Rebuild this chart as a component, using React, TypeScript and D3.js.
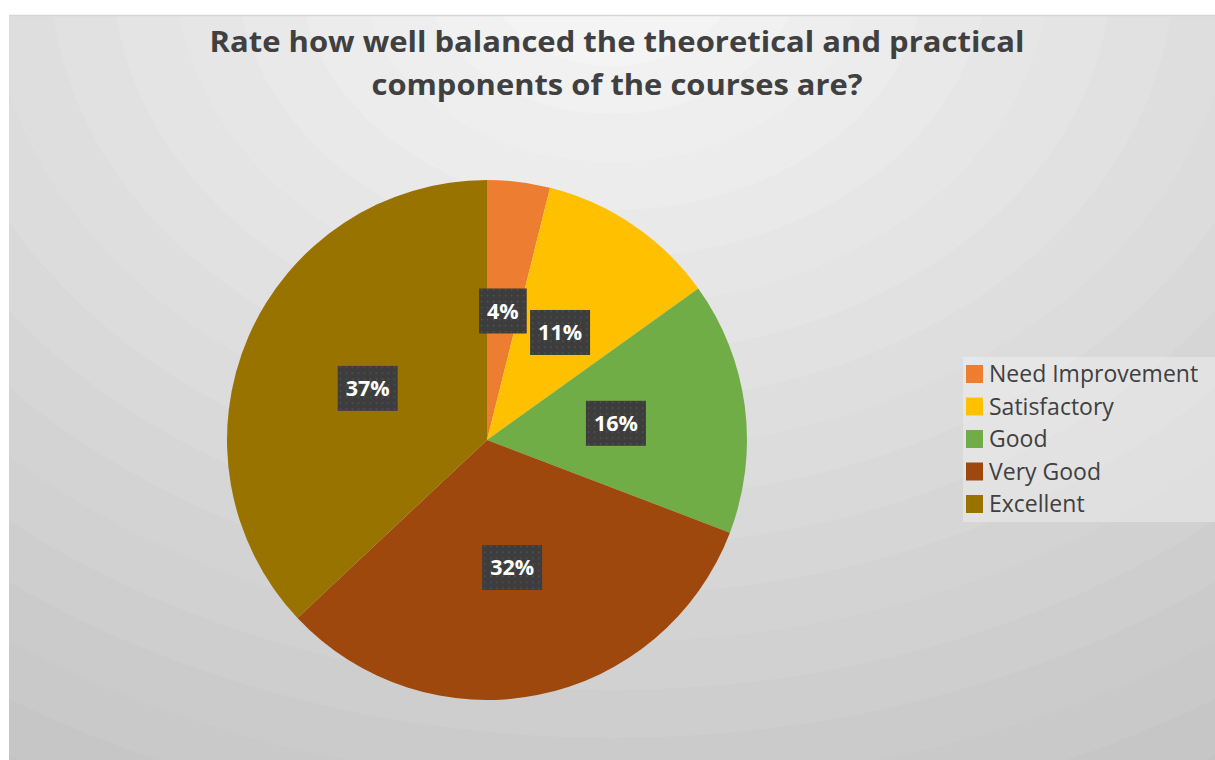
import React, { useEffect, useRef } from "react";
import * as d3 from "d3";

const categories = ["Need Improvement", "Satisfactory", "Good", "Very Good", "Excellent"];
const values = [3.9, 11.2, 15.7, 32.2, 37.0];
const colors = ["#ED7D31", "#FFC000", "#70AD47", "#9E480E", "#997300"];
const titleLines = [
  "Rate how well balanced the theoretical and practical",
  "components of the courses are?",
];

const W = 1215;
const H = 760;

export default function App() {
  const ref = useRef<SVGSVGElement | null>(null);

  useEffect(() => {
    document.body.style.margin = "0";
    const svg = d3.select(ref.current);
    svg.selectAll("*").remove();

    const defs = svg.append("defs");
    const pat = defs
      .append("pattern")
      .attr("id", "dots")
      .attr("width", 6)
      .attr("height", 6)
      .attr("patternUnits", "userSpaceOnUse");
    pat.append("rect").attr("width", 6).attr("height", 6).attr("fill", "#3d3d3d");
    pat.append("rect").attr("x", 2).attr("y", 2).attr("width", 1.4).attr("height", 1.4).attr("fill", "#565656");

    const clip = defs.append("clipPath").attr("id", "area");
    clip.append("rect").attr("x", 9).attr("y", 15).attr("width", W - 9).attr("height", H - 15);

    svg.append("rect").attr("width", W).attr("height", H).attr("fill", "#ffffff");

    // background banded radial gradient
    const bg = svg.append("g").attr("clip-path", "url(#area)");
    bg.append("rect").attr("x", 9).attr("y", 15).attr("width", W - 9).attr("height", H - 15).attr("fill", "#c2c2c2");
    const N = 22;
    const step = 48;
    const cx = 612;
    const cy = -30;
    const shade = d3.scaleLinear<number>().domain([0, N * step]).range([249, 190]);
    for (let i = N; i >= 1; i--) {
      const r = i * step;
      const c = Math.round(shade(r));
      bg.append("ellipse")
        .attr("cx", cx)
        .attr("cy", cy)
        .attr("rx", r * 1.3)
        .attr("ry", r)
        .attr("fill", `rgb(${c},${c},${c})`);
    }
    svg.append("line").attr("x1", 9).attr("x2", W).attr("y1", 15.5).attr("y2", 15.5).attr("stroke", "#d6d6d6").attr("stroke-width", 1.5);

    // title
    const title = svg.append("g").attr("fill", "#404040")
      .style("font-family", "'Open Sans', sans-serif")
      .style("font-weight", "bold")
      .style("font-size", "29px");
    const tl = [
      { y: 52, len: 815 },
      { y: 95, len: 491 },
    ];
    titleLines.forEach((t, i) => {
      title.append("text")
        .attr("x", 617)
        .attr("y", tl[i].y)
        .attr("text-anchor", "middle")
        .attr("textLength", tl[i].len)
        .attr("lengthAdjust", "spacingAndGlyphs")
        .text(t);
    });

    // pie
    const pcx = 487;
    const pcy = 440;
    const R = 260;
    const pie = d3.pie<number>().sort(null).value((d) => d);
    const arcs = pie(values);
    const arc = d3.arc<d3.PieArcDatum<number>>().innerRadius(0).outerRadius(R);
    const g = svg.append("g").attr("transform", `translate(${pcx},${pcy})`);
    g.selectAll("path.slice")
      .data(arcs)
      .enter()
      .append("path")
      .attr("class", "slice")
      .attr("d", arc as any)
      .attr("fill", (_d, i) => colors[i]);

    const total = d3.sum(values);
    arcs.forEach((a) => {
      const [x, y] = arc.centroid(a);
      const lg = g.append("g").attr("transform", `translate(${x},${y})`);
      const box = lg.append("rect").attr("fill", "url(#dots)");
      const txt = lg.append("text")
        .attr("text-anchor", "middle")
        .attr("dy", "0.36em")
        .attr("fill", "#ffffff")
        .style("font-family", "'Open Sans', sans-serif")
        .style("font-weight", "bold")
        .style("font-size", "21.5px")
        .text(`${Math.round((a.value / total) * 100)}%`);
      const w = (txt.node() as SVGTextElement).getComputedTextLength();
      const bw = w + 16;
      const bh = 45;
      box.attr("x", -bw / 2).attr("y", -bh / 2).attr("width", bw).attr("height", bh);
    });

    // legend
    const legX = 966;
    const legY0 = 374;
    const legDy = 32.5;
    svg.append("rect").attr("x", 963).attr("y", 357).attr("width", W - 963).attr("height", 165)
      .attr("fill", "#ffffff").attr("opacity", 0.3);
    const leg = svg.append("g");
    categories.forEach((c, i) => {
      const y = legY0 + i * legDy;
      leg.append("rect").attr("x", legX).attr("y", y - 9).attr("width", 17).attr("height", 18).attr("fill", colors[i]);
      leg.append("text")
        .attr("x", 989)
        .attr("y", y + 8)
        .attr("fill", "#404040")
        .style("font-family", "'Open Sans', sans-serif")
        .style("font-size", "23px")
        .text(c);
    });
  }, []);

  return <svg ref={ref} width={W} height={H} style={{ display: "block" }} />;
}
